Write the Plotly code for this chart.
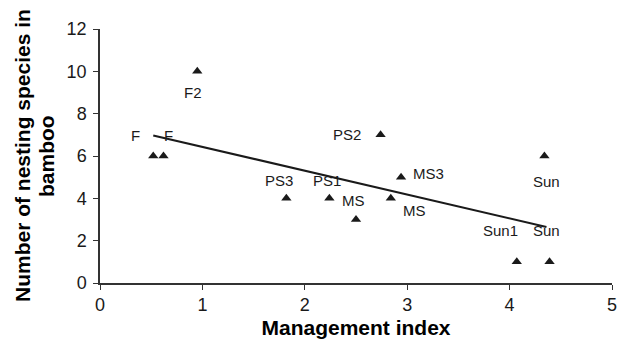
import plotly.graph_objects as go

# Data
mgmt_index = [0.52, 0.62, 0.95, 1.82, 2.24, 2.50, 2.84, 2.94, 2.74, 4.34, 4.07, 4.39]
nesting_species = [6, 6, 10, 4, 4, 3, 4, 5, 7, 6, 1, 1]
site_labels = ["F", "F", "F2", "PS3", "PS1", "MS", "MS", "MS3", "PS2", "Sun", "Sun1", "Sun"]

# Regression line endpoints
trend_x = [0.52, 4.36]
trend_y = [6.97, 2.65]

# label offsets in pixels (dx right, dy up)
label_dx = [-18, 5, -4, -7, -2, -3, 24, 27, -34, 2, -16, -3]
label_dy = [21, 21, -21, 18, 18, 19, -12, 4, 0, -25, 31, 31]

FONT = "Liberation Sans, Arial, sans-serif"
INK = "#1a1a1a"

fig = go.Figure()
fig.add_trace(go.Scatter(
    x=trend_x, y=trend_y, mode="lines",
    line=dict(color=INK, width=2), showlegend=False, hoverinfo="skip"))
fig.add_trace(go.Scatter(
    x=mgmt_index, y=nesting_species, mode="markers",
    marker=dict(symbol="triangle-up", size=9, color=INK),
    showlegend=False))

for x, y, t, dx, dy in zip(mgmt_index, nesting_species, site_labels, label_dx, label_dy):
    fig.add_annotation(x=x, y=y, text=t, showarrow=False,
                       xshift=dx, yshift=dy,
                       font=dict(family=FONT, size=15, color=INK))

for txt, shift in [("<b>Number of nesting species in</b>", -78), ("<b>bamboo</b>", -54)]:
    fig.add_annotation(xref="paper", yref="paper", x=0, y=0.5,
                       xanchor="center", yanchor="middle", xshift=shift,
                       text=txt, textangle=-90, showarrow=False,
                       font=dict(family=FONT, size=21, color="black"))

fig.update_layout(
    width=627, height=342,
    margin=dict(l=92, r=23, t=21, b=67),
    paper_bgcolor="white", plot_bgcolor="white",
    font=dict(family=FONT, color=INK),
    xaxis=dict(range=[0, 5], dtick=1, showgrid=False, zeroline=False,
               showline=True, linecolor="#333333", linewidth=1.5,
               ticks="outside", ticklen=5, tickcolor="#333333",
               tickfont=dict(size=18, family=FONT, color=INK),
               title=dict(text="<b>Management index</b>",
                          font=dict(size=21, family=FONT, color="black"),
                          standoff=6)),
    yaxis=dict(range=[0, 12], dtick=2, showgrid=False, zeroline=False,
               showline=True, linecolor="#333333", linewidth=1.5,
               ticks="outside", ticklen=5, tickcolor="#333333",
               ticklabelstandoff=3,
               tickfont=dict(size=18, family=FONT, color=INK)),
)

fig.write_html("out.html")
